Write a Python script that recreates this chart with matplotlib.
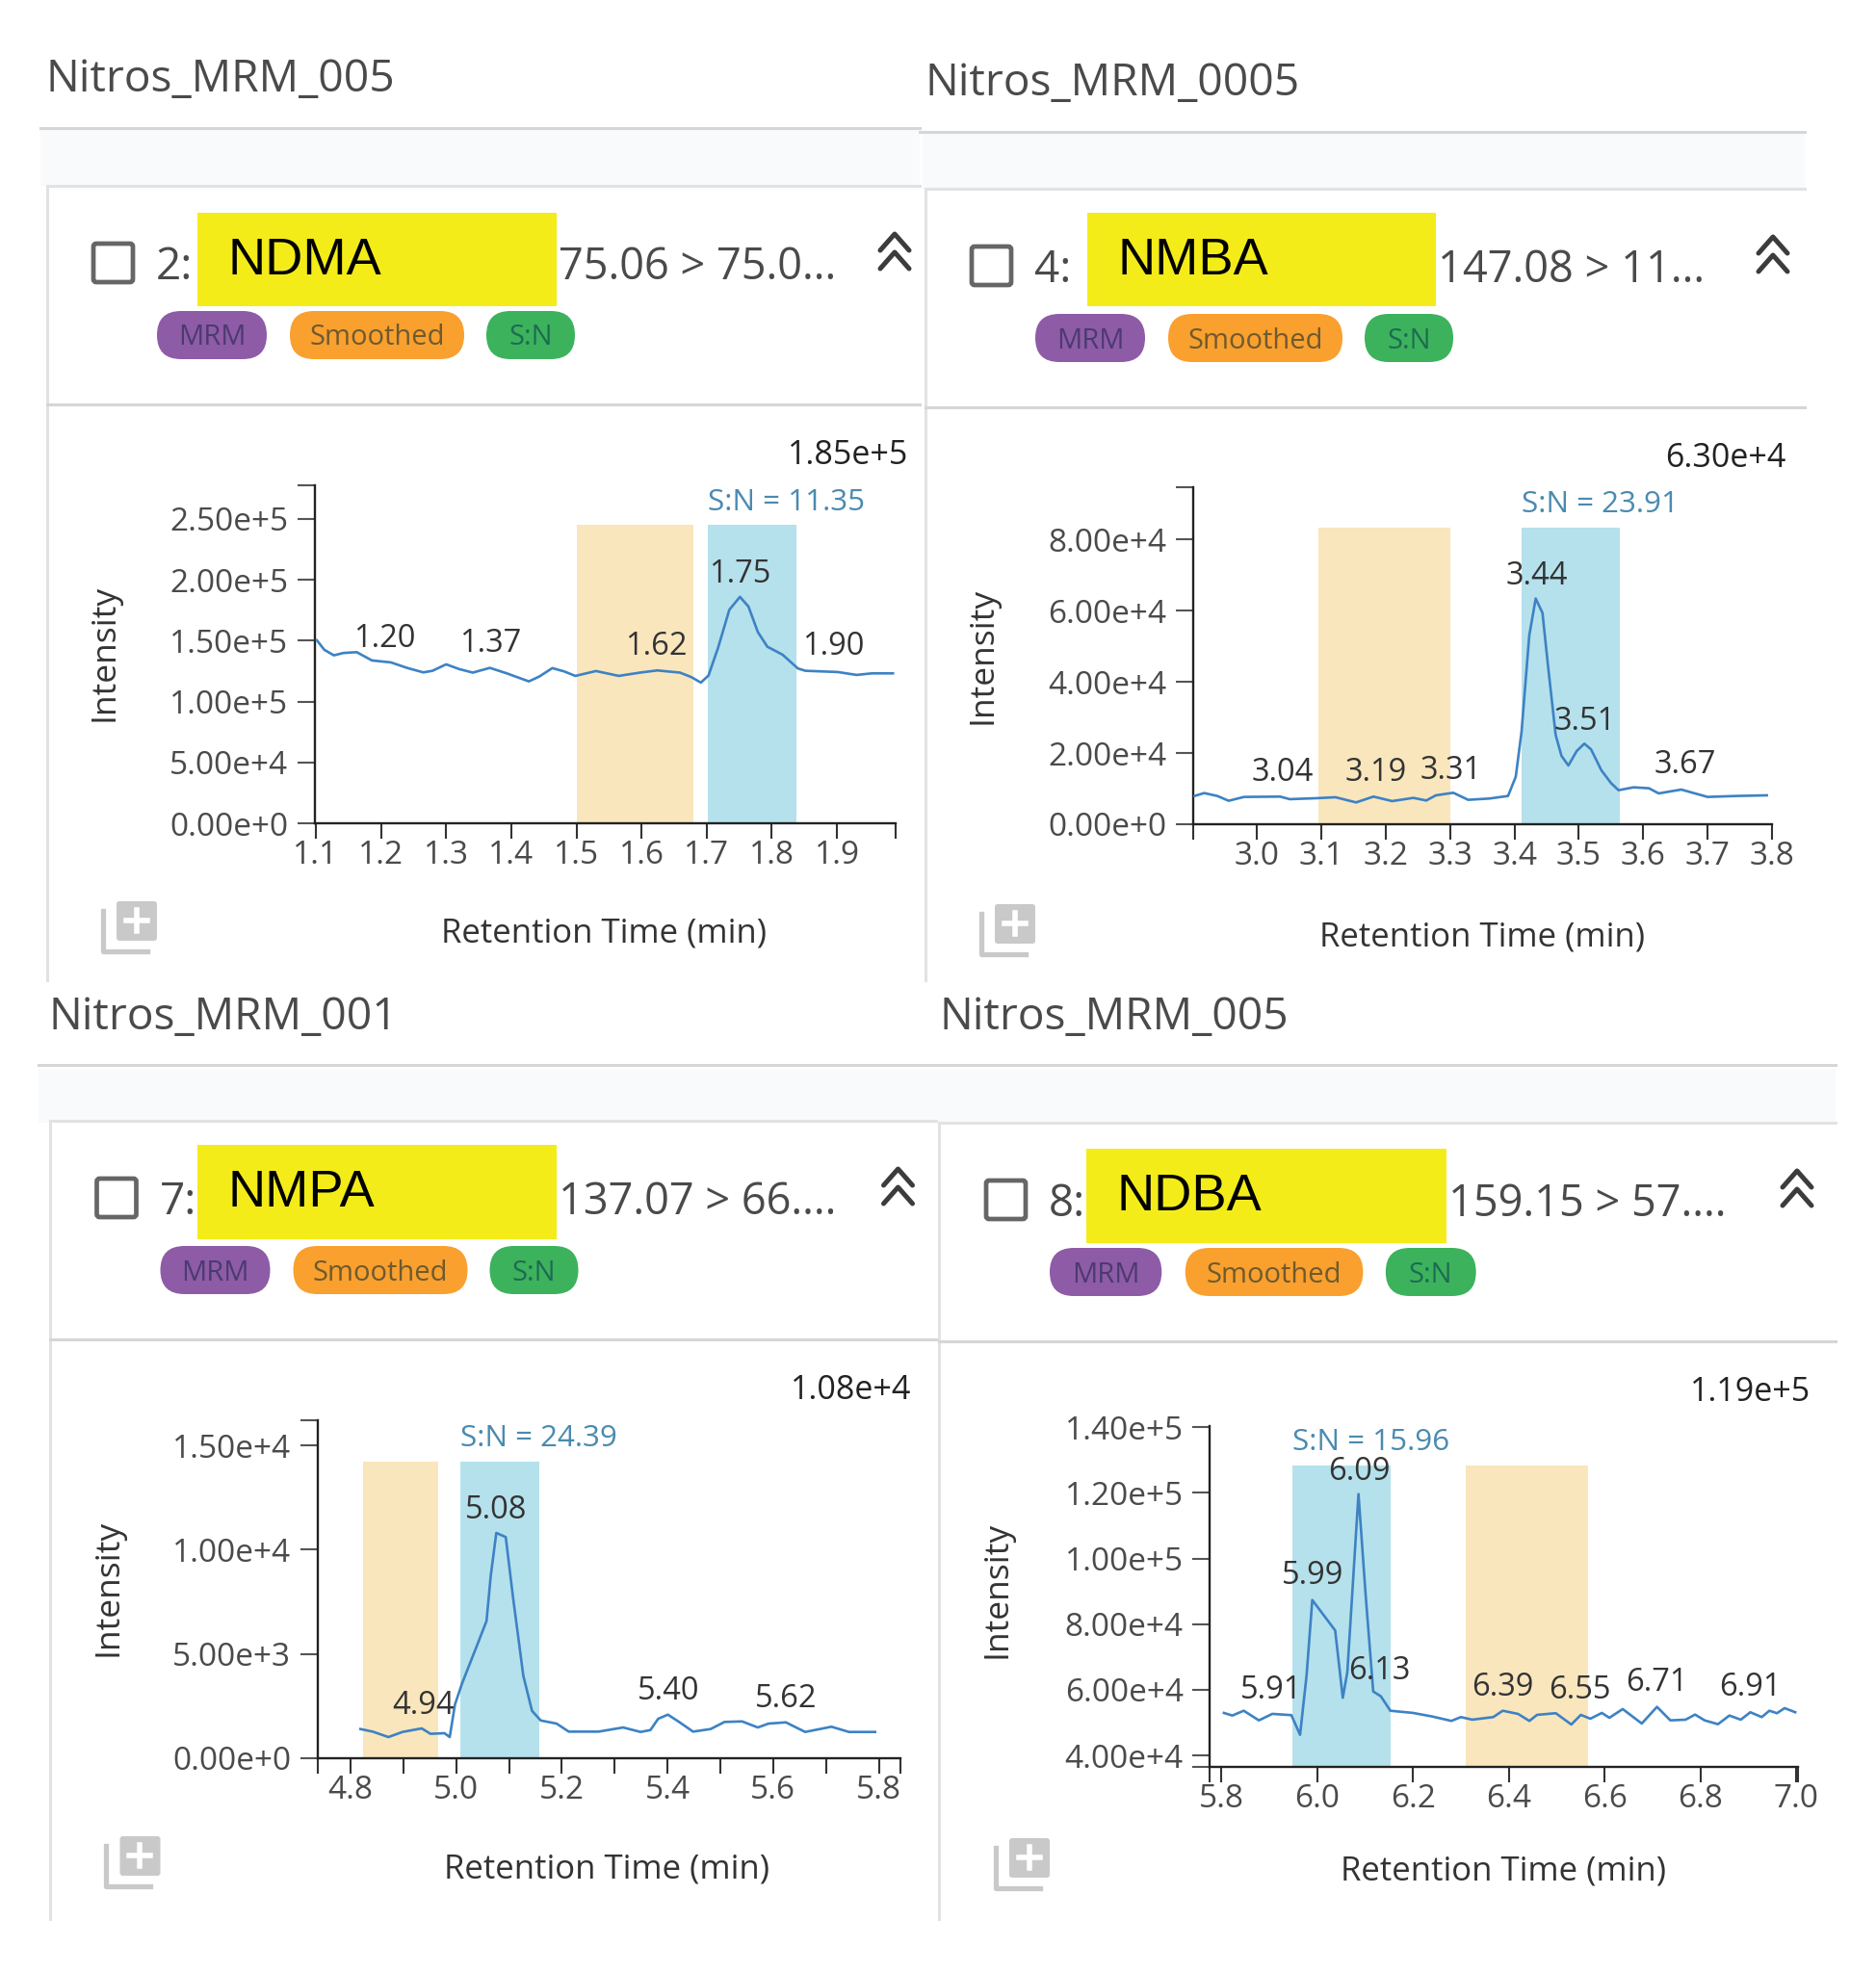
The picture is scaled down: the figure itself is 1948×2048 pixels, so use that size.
import matplotlib
matplotlib.use("Agg")
import matplotlib.pyplot as plt
from matplotlib.patches import FancyBboxPatch, Rectangle

plt.rcParams['font.family'] = ['Open Sans', 'DejaVu Sans']

W, H = 1949, 2048

# NDMA
ndma_t = [1.1014, 1.113, 1.1276, 1.142, 1.1627, 1.186, 1.215, 1.241, 1.265, 1.279, 1.30, 1.32, 1.341, 1.367, 1.393,
          1.427, 1.443, 1.463, 1.481, 1.4983, 1.530, 1.565, 1.5975, 1.624, 1.659, 1.6764, 1.691, 1.7027, 1.7172,
          1.7347, 1.751, 1.764, 1.7786, 1.793, 1.8165, 1.84, 1.8515, 1.901, 1.930, 1.9537, 1.9858]
ndma_i = [150300, 142400, 137900, 139800, 140500, 133700, 132100, 127400, 123900, 125200, 130500, 126600, 123700,
          127600, 123100, 116500, 120500, 127400, 124700, 121000, 125000, 121000, 123700, 125500, 123700, 120000,
          115500, 121300, 143700, 175300, 185900, 178000, 156900, 145000, 138400, 127100, 125200, 124200, 121800,
          123100, 123100]
ndma_peaks = ["1.20", "1.37", "1.62", "1.75", "1.90"]
ndma_peak_t = [1.206, 1.3675, 1.623, 1.751, 1.895]
ndma_peak_i = [151300, 147500, 145000, 204600, 145000]

# NMBA
nmba_t = [2.903, 2.918, 2.9385, 2.956, 2.98, 3.036, 3.051, 3.092, 3.122, 3.154, 3.181, 3.21, 3.243, 3.263, 3.278,
          3.305, 3.328, 3.361, 3.39, 3.402, 3.411, 3.423, 3.433, 3.4435, 3.4524, 3.464, 3.473, 3.4837, 3.4967,
          3.5085, 3.519, 3.535, 3.55, 3.5617, 3.585, 3.609, 3.624, 3.659, 3.70, 3.745, 3.792]
nmba_i = [7940, 8750, 7940, 6590, 7670, 7760, 7040, 7310, 7580, 6130, 7760, 6500, 7400, 6670, 8120, 8840, 6860, 7220,
          7940, 13350, 25980, 53040, 63400, 59350, 44000, 25070, 19210, 16500, 20570, 22640, 21020, 15150, 11550,
          9560, 10370, 10100, 8660, 9740, 7670, 7940, 8120]
nmba_peaks = ["3.04", "3.19", "3.31", "3.44", "3.51", "3.67"]
nmba_peak_t = [3.04, 3.185, 3.302, 3.435, 3.509, 3.665]
nmba_peak_i = [14350, 14350, 15100, 69600, 28900, 16500]

# NMPA
nmpa_t = [4.8187, 4.842, 4.8717, 4.8983, 4.9347, 4.9513, 4.9778, 4.9877, 4.9977, 5.011, 5.0408, 5.0574, 5.0653,
          5.0759, 5.0938, 5.1071, 5.127, 5.1435, 5.16, 5.19, 5.2131, 5.2695, 5.3159, 5.349, 5.3676, 5.3822, 5.4007,
          5.4219, 5.4484, 5.4816, 5.508, 5.5412, 5.571, 5.591, 5.624, 5.6606, 5.7103, 5.7434, 5.793]
nmpa_i = [1400, 1275, 1015, 1260, 1430, 1170, 1200, 1015, 2580, 3580, 5500, 6580, 8730, 10800, 10600, 7800, 3960,
          2270, 1810, 1660, 1275, 1275, 1475, 1260, 1350, 1890, 2090, 1740, 1275, 1400, 1740, 1765, 1475, 1660, 1720,
          1260, 1510, 1260, 1260]
nmpa_peaks = ["4.94", "5.08", "5.40", "5.62"]
nmpa_peak_t = [4.938, 5.075, 5.402, 5.624]
nmpa_peak_i = [2520, 11900, 3190, 2820]

# NDBA
ndba_t = [5.805, 5.8225, 5.8463, 5.878, 5.906, 5.9458, 5.964, 5.9776, 5.9895, 6.0373, 6.0532, 6.0627, 6.086, 6.101,
          6.1168, 6.1327, 6.1526, 6.20, 6.24, 6.28, 6.2998, 6.3237, 6.3675, 6.3873, 6.4191, 6.443, 6.4589, 6.4981,
          6.5305, 6.5504, 6.5703, 6.5942, 6.61, 6.6379, 6.6777, 6.7095, 6.7374, 6.7692, 6.7891, 6.809, 6.8368, 6.8607,
          6.8845, 6.9044, 6.9283, 6.9442, 6.9601, 6.976, 6.9983]
ndba_i = [52980, 52190, 53650, 50720, 52690, 52310, 46330, 64400, 87350, 78090, 57580, 65370, 119600, 88810, 59510,
          58050, 53650, 52980, 51900, 50550, 51720, 50930, 51720, 53650, 52690, 50550, 52390, 52900, 49460, 52390,
          51220, 52980, 51510, 54150, 49760, 54830, 50720, 50930, 52480, 50720, 49550, 52190, 50930, 53190, 51720,
          53650, 52900, 54440, 53190]
ndba_peaks = ["5.91", "5.99", "6.09", "6.13", "6.39", "6.55", "6.71", "6.91"]
ndba_peak_t = [5.903, 5.991, 6.088, 6.129, 6.387, 6.548, 6.71, 6.904]
ndba_peak_i = [59900, 94800, 126350, 65750, 60700, 59900, 62300, 60700]

GREY = "#4a4a4a"
LINE = "#3d82c4"


def px_rect(x0, y0, x1, y1, color, z=1):
    bg.add_patch(Rectangle((x0, y0), x1 - x0, y1 - y0, facecolor=color, edgecolor="none", zorder=z))


def pill(x0, x1, y0, y1, color, label, txt_color):
    r = (y1 - y0) / 2
    bg.add_patch(FancyBboxPatch((x0 + r, y0 + r), x1 - x0 - 2 * r, 0, boxstyle=f"round,pad={r}",
                                facecolor=color, edgecolor="none", zorder=3))
    bg.text((x0 + x1) / 2, (y0 + y1) / 2 + 3, label, color=txt_color, fontsize=21, ha="center", va="center", zorder=4)


def card(dx, dy, num, name, mz, yellow, max_label, left, right, bottom, pill_scale=1.0, rdx=0):
    # borders of the card
    bg.plot([left, right], [193 + dy, 193 + dy], color="#e2e2e2", lw=2.2)
    bg.plot([left, left], [193 + dy, bottom], color="#e2e2e2", lw=2.2)
    bg.plot([left, right], [420 + dy, 420 + dy], color="#d6d6d6", lw=2.2)
    # checkbox
    bg.add_patch(FancyBboxPatch((98 + dx, 254 + dy), 39, 38, boxstyle="round,pad=1,rounding_size=3",
                                facecolor="white", edgecolor="#666666", lw=3.4, zorder=3))
    bg.text(162 + dx, 278 + dy, num, color=GREY, fontsize=33, ha="left", va="center", zorder=3)
    px_rect(yellow[0], yellow[1], yellow[2], yellow[3], "#f4ec18", z=4)
    bg.text(yellow[0] + 32, yellow[1] + 50, name, color="black", fontsize=39, ha="left", va="center",
            family="Liberation Sans", zorder=5)
    bg.text(yellow[2] + 2, 278 + dy, mz, color=GREY, fontsize=32.5, ha="left", va="center", zorder=3)
    # chevrons
    for y in [243, 262]:
        bg.plot([914 + dx + rdx, 929 + dx + rdx, 944 + dx + rdx], [y + 17 + dy, y + dy, y + 17 + dy], color="#3c3c3c",
                lw=3.6, solid_capstyle="round", zorder=3)
    # tags
    s = pill_scale
    pill(163 + dx, 163 + dx + 114 * s, 323 + dy, 373 + dy, "#8e5ba6", "MRM", "#4b3a70")
    pill(163 + dx + 138 * s, 163 + dx + 319 * s, 323 + dy, 373 + dy, "#f9a02f", "Smoothed", "#6f5a2e")
    pill(163 + dx + 342 * s, 163 + dx + 434 * s, 323 + dy, 373 + dy, "#3cb25c", "S:N", "#1d6c52")
    bg.text(943 + dx + rdx, 473 + dy, max_label, color="#222222", fontsize=24.5, ha="right", va="center", zorder=3)
    bg.text(109 + dx, 678 + dy, "Intensity", color="#333333", fontsize=25.5, rotation=90, ha="center", va="center")
    bg.text(627 + dx + rdx * 0.7, 970 + dy, "Retention Time (min)", color="#333333", fontsize=25, ha="center",
            va="center")
    # add icon
    bg.plot([107 + dx, 107 + dx, 153 + dx], [946 + dy, 988 + dy, 988 + dy], color="#c9c9c9", lw=3.8)
    bg.add_patch(FancyBboxPatch((122 + dx, 937 + dy), 40, 39, boxstyle="round,pad=1,rounding_size=3",
                                facecolor="#c9c9c9", edgecolor="none", zorder=3))
    bg.plot([131 + dx, 153 + dx], [956 + dy, 956 + dy], color="white", lw=4, zorder=4)
    bg.plot([142 + dx, 142 + dx], [945 + dy, 967 + dy], color="white", lw=4, zorder=4)


def chart(box, t, i, xlim, ylim, xticks, xlabels, yticks, ylabels, orange, blue, band_top, sn, peaks, peak_t, peak_i):
    x0, y0, x1, y1 = box
    ax = fig.add_axes([x0 / W, 1 - y1 / H, (x1 - x0) / W, (y1 - y0) / H])
    ax.patch.set_alpha(0)
    ax.set_xlim(xlim)
    ax.set_ylim(ylim)
    ax.fill_between(orange, ylim[0], band_top, color="#f9e6bd", lw=0, zorder=1)
    ax.fill_between(blue, ylim[0], band_top, color="#b5e1ec", lw=0, zorder=1)
    ax.plot(t, i, color=LINE, lw=1.9, solid_joinstyle="round", zorder=3)
    for label, a, b in zip(peaks, peak_t, peak_i):
        ax.text(a, b, label, fontsize=23.5, color="#333333", ha="center", va="center", zorder=4)
    ax.annotate(sn, xy=(blue[0], band_top), xytext=(0, 6), textcoords="offset points", ha="left", va="bottom",
                fontsize=22.6, color="#4a8ab0")
    for side in ["top", "right"]:
        ax.spines[side].set_visible(False)
    for side in ["left", "bottom"]:
        ax.spines[side].set_linewidth(1.7)
        ax.spines[side].set_color("#222222")
    ax.set_xticks(xticks)
    ax.set_xticklabels(xlabels)
    ax.set_yticks(yticks)
    ax.set_yticklabels(ylabels)
    ax.tick_params(axis="x", length=11.5, width=1.5, color="#333333", pad=1, labelsize=24, labelcolor=GREY)
    ax.tick_params(axis="y", length=13, width=1.5, color="#555555", pad=7, labelsize=24, labelcolor=GREY)
    return ax


fig = plt.figure(figsize=(W / 100, H / 100), dpi=100, facecolor="white")
bg = fig.add_axes([0, 0, 1, 1])
bg.set_xlim(0, W)
bg.set_ylim(H, 0)
bg.axis("off")

# titles and header strips
bg.text(48, 83, "Nitros_MRM_005", fontsize=33.2, color=GREY, ha="left", va="center")
bg.text(961, 87, "Nitros_MRM_0005", fontsize=33.2, color=GREY, ha="left", va="center")
bg.text(51, 1057, "Nitros_MRM_001", fontsize=33.2, color=GREY, ha="left", va="center")
bg.text(976, 1057, "Nitros_MRM_005", fontsize=33.2, color=GREY, ha="left", va="center")
px_rect(42, 135, 955, 193, "#f9fafb")
px_rect(958, 139, 1874, 196, "#f9fafb")
px_rect(40, 1110, 1906, 1166, "#f9fafb")
bg.plot([42, 955], [133, 133], color="#d6d6d6", lw=2.2)
bg.plot([955, 1874], [137, 137], color="#d6d6d6", lw=2.2)
bg.plot([40, 1906], [1106, 1106], color="#d6d6d6", lw=2.2)

card(0, 0, "2:", "NDMA", "75.06 > 75.0...", (205, 221, 578, 318), "1.85e+5", 49, 955, 1018)
card(912, 3, "4:", "NMBA", "147.08 > 11...", (1129, 221, 1491, 318), "6.30e+4", 961, 1874, 1018)
card(3.5, 971, "7:", "NMPA", "137.07 > 66....", (205, 1189, 578, 1287), "1.08e+4", 52, 972, 1993)
card(927, 973, "8:", "NDBA", "159.15 > 57....", (1128, 1193, 1502, 1291), "1.19e+5", 975, 1906, 1993, 1.02, 10)

chart((327, 504, 930, 855), ndma_t, ndma_i, (1.0985, 1.99), (0, 277500),
      [1.1, 1.2, 1.3, 1.4, 1.5, 1.6, 1.7, 1.8, 1.9, 1.99],
      ["1.1", "1.2", "1.3", "1.4", "1.5", "1.6", "1.7", "1.8", "1.9", ""],
      [0, 50000, 100000, 150000, 200000, 250000, 277500],
      ["0.00e+0", "5.00e+4", "1.00e+5", "1.50e+5", "2.00e+5", "2.50e+5", ""],
      (1.50, 1.68), (1.702, 1.837), 245000, "S:N = 11.35", ndma_peaks, ndma_peak_t, ndma_peak_i)

chart((1239, 505.5, 1840, 856), nmba_t, nmba_i, (2.901, 3.8), (0, 94800),
      [2.901, 3.0, 3.1, 3.2, 3.3, 3.4, 3.5, 3.6, 3.7, 3.8],
      ["", "3.0", "3.1", "3.2", "3.3", "3.4", "3.5", "3.6", "3.7", "3.8"],
      [0, 20000, 40000, 60000, 80000, 94800],
      ["0.00e+0", "2.00e+4", "4.00e+4", "6.00e+4", "8.00e+4", ""],
      (3.096, 3.30), (3.411, 3.563), 83400, "S:N = 23.91", nmba_peaks, nmba_peak_t, nmba_peak_i)

chart((330, 1475, 934.5, 1826), nmpa_t, nmpa_i, (4.738, 5.84), (0, 16200),
      [4.738, 4.8, 4.9, 5.0, 5.1, 5.2, 5.3, 5.4, 5.5, 5.6, 5.7, 5.8, 5.84],
      ["", "4.8", "", "5.0", "", "5.2", "", "5.4", "", "5.6", "", "5.8", ""],
      [0, 5000, 10000, 15000, 16200],
      ["0.00e+0", "5.00e+3", "1.00e+4", "1.50e+4", ""],
      (4.824, 4.965), (5.007, 5.158), 14230, "S:N = 24.39", nmpa_peaks, nmpa_peak_t, nmpa_peak_i)

chart((1256.5, 1481, 1867.5, 1834.5), ndba_t, ndba_i, (5.776, 7.005), (36700, 140300),
      [5.776, 5.8, 6.0, 6.2, 6.4, 6.6, 6.8, 7.0, 7.005],
      ["", "5.8", "6.0", "6.2", "6.4", "6.6", "6.8", "7.0", ""],
      [36700, 40000, 60000, 80000, 100000, 120000, 140000],
      ["", "4.00e+4", "6.00e+4", "8.00e+4", "1.00e+5", "1.20e+5", "1.40e+5"],
      (6.311, 6.565), (5.947, 6.153), 128400, "S:N = 15.96", ndba_peaks, ndba_peak_t, ndba_peak_i)

plt.savefig("out.png", dpi=100)
